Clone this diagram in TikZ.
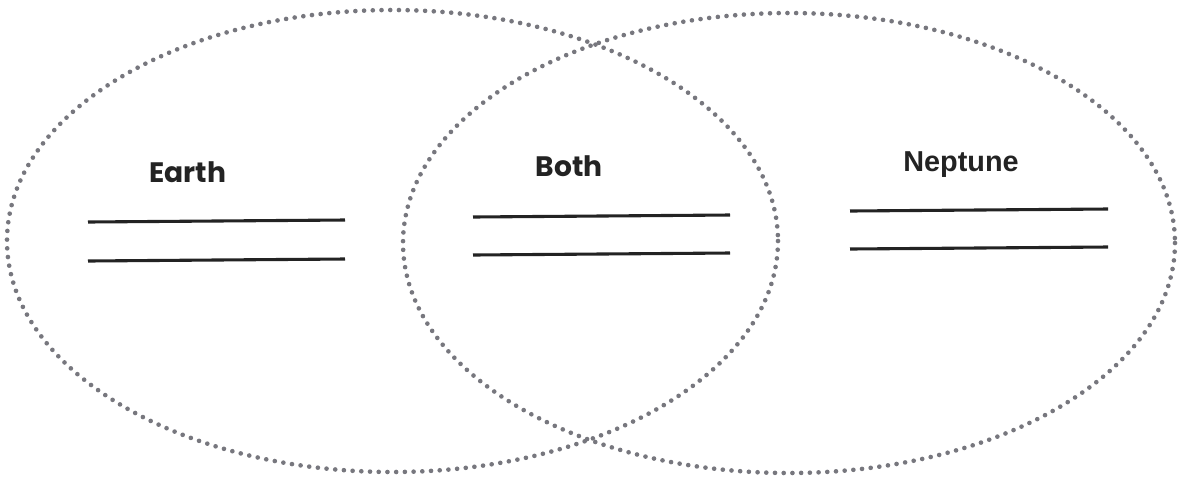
\documentclass[tikz,border=0pt]{standalone}
\usepackage{fontspec}
\setmainfont{Poppins}
\newfontfamily\narrowfont{Liberation Sans}
\usetikzlibrary{positioning}

\definecolor{dotgrey}{HTML}{77777E}
\definecolor{ink}{HTML}{232323}

\begin{document}
\begin{tikzpicture}[x=0.025cm, y=-0.025cm,
    venn/.style={dotgrey, line width=3.3pt, line cap=round, dash pattern=on 0pt off 6.2pt},
    label/.style={ink, anchor=base, inner sep=0pt, font=\fontsize{20}{22}\selectfont\bfseries},
    answer/.style={ink, line width=2.2pt}]
    \useasboundingbox (0,0) rectangle (1178,483);

    % the two sets
    \draw[venn] (392.5,241) ellipse [x radius=385.5, y radius=231];
    \draw[venn] (789,243) ellipse [x radius=386, y radius=230];

    % headings
    \node[label] (earth) at (188,182) {Earth};
    \node[label] (both) at (569,176) {Both};
    \node[label, font=\fontsize{20.5}{22}\selectfont\narrowfont\bfseries] (neptune) at (961,171) {Neptune};

    % writing lines
    \coordinate (e1) at (88,222);  \coordinate (e2) at (345,220);
    \coordinate (e3) at (88,261);  \coordinate (e4) at (345,259);
    \coordinate (b1) at (473,217); \coordinate (b2) at (730,215);
    \coordinate (b3) at (473,255); \coordinate (b4) at (730,253);
    \coordinate (n1) at (850,211); \coordinate (n2) at (1108,209);
    \coordinate (n3) at (850,249); \coordinate (n4) at (1108,247);

    \draw[answer] (e1) -- (e2);
    \draw[answer] (e3) -- (e4);
    \draw[answer] (b1) -- (b2);
    \draw[answer] (b3) -- (b4);
    \draw[answer] (n1) -- (n2);
    \draw[answer] (n3) -- (n4);
\end{tikzpicture}
\end{document}
